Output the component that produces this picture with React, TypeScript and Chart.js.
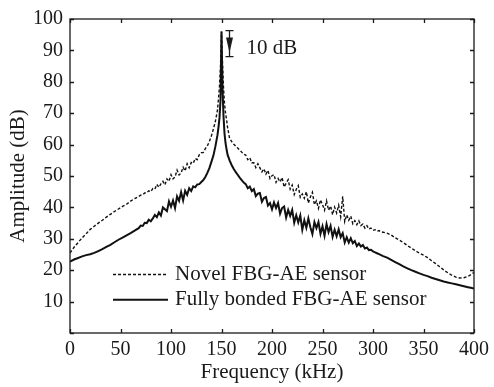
import React, { useEffect, useRef } from "react";
import { Chart, registerables } from "chart.js";

Chart.register(...registerables);

// ---- data ----
const freqKHz = [
  0, 4, 8, 12, 16, 20, 24, 28, 32, 36, 40, 44, 48, 52, 56, 60, 64, 68,
  70, 72, 74, 76, 78, 80, 82, 84, 86, 88,
  90, 92, 94, 96, 98, 100, 102, 104, 106, 108,
  110, 112, 114, 116, 118, 120, 122, 124, 126, 128,
  130, 132, 134, 136, 138, 140, 142, 144, 146,
  147, 148, 149, 150, 151, 152, 153, 154, 155, 156,
  158, 160, 162, 164, 166, 168, 170, 172, 174, 176,
  178, 180, 182, 184, 186, 188, 190, 192, 194, 196,
  198, 200, 202, 204, 206, 208, 210, 212, 214, 216,
  218, 220, 222, 224, 226, 228, 230, 232, 234, 236,
  238, 240, 242, 244, 246, 248, 250, 252, 254, 256,
  258, 260, 262, 264, 266, 268, 270, 272, 274, 276,
  278, 280, 282, 284, 286, 288, 290, 292, 294, 296,
  298, 300, 302, 304, 306, 308, 310,
  314, 318, 322, 326, 330, 334, 338, 342, 346, 350, 354, 358, 362, 366, 370, 374, 378, 382, 386, 390, 394, 398, 400,
];

const novelDb = [
  25.5, 27.3, 28.8, 30.3, 31.6, 33.0, 34.0, 35.0, 35.9, 36.9, 37.8, 38.7, 39.5, 40.3, 41.0, 42.0, 42.8, 43.5,
  43.9, 44.0, 44.6, 44.7, 45.3, 45.0, 46.0, 45.8, 47.3, 46.4,
  47.5, 48.3, 47.2, 49.1, 48.3, 50.4, 49.1, 49.7, 51.9, 50.3,
  51.0, 52.8, 51.6, 53.9, 52.6, 54.3, 54.0, 55.6, 55.2, 56.8,
  57.4, 57.5, 58.7, 59.6, 61.0, 62.8, 65.0, 67.5, 71.0,
  74.5, 78.5, 85.0, 96.0, 86.0, 78.0, 73.0, 70.0, 68.0, 65.5,
  62.0, 61.0, 60.2, 59.5, 58.9, 58.3, 57.6, 56.9, 56.7, 55.2,
  55.8, 54.2, 54.2, 52.7, 53.9, 52.6, 51.3, 52.3, 50.6, 51.8,
  49.2, 50.1, 50.4, 48.0, 49.2, 48.1, 49.5, 46.5, 47.7, 48.8,
  45.8, 47.1, 44.1, 45.7, 46.9, 43.2, 44.3, 42.9, 45.0, 41.4,
  43.3, 44.8, 40.9, 42.1, 39.7, 42.4, 40.9, 39.1, 42.1, 39.1,
  40.4, 37.7, 40.1, 38.2, 40.7, 37.0, 43.5, 35.5, 37.6, 35.9,
  37.2, 34.8, 35.8, 34.5, 35.7, 34.2, 34.7, 33.4, 34.2, 33.1,
  33.4, 32.7, 32.9, 32.4, 32.6, 32.2, 32.1,
  31.8, 31.2, 30.3, 29.6, 28.8, 27.9, 27.0, 26.2, 25.4, 24.8, 24.0, 23.0, 22.1, 21.1, 20.1, 19.2, 18.4, 17.8, 17.5, 17.6, 18.0, 18.8, 19.3,
];

const bondedDb = [
  22.7, 23.4, 23.9, 24.4, 24.8, 25.1, 25.5, 26.1, 26.7, 27.4, 28.1, 28.9, 29.7, 30.4, 31.1, 31.8, 32.6, 33.4,
  34.2, 34.1, 35.1, 35.0, 36.1, 35.6, 36.5, 37.6, 36.9, 38.4,
  37.4, 40.0, 39.4, 38.8, 41.9, 40.2, 42.2, 39.8, 43.5, 42.1,
  44.9, 42.2, 45.3, 44.0, 46.1, 45.2, 46.7, 46.4, 47.3, 47.4,
  48.1, 48.7, 49.7, 51.0, 52.5, 54.5, 56.5, 59.5, 63.0,
  65.5, 68.5, 74.0, 96.0, 78.0, 69.0, 63.5, 60.5, 58.5, 56.8,
  55.0, 53.5, 52.3, 51.3, 50.4, 49.5, 48.7, 47.9, 47.4, 46.1,
  46.6, 45.2, 45.8, 43.6, 44.4, 44.6, 41.8, 43.0, 43.3, 40.6,
  41.4, 39.4, 41.6, 39.8, 41.4, 38.0, 39.8, 40.3, 36.8, 39.2,
  37.3, 39.2, 35.1, 37.5, 35.2, 37.4, 32.9, 35.9, 33.5, 36.5,
  33.7, 31.5, 35.3, 33.4, 35.3, 31.6, 34.0, 31.0, 34.7, 32.1,
  34.1, 30.6, 32.9, 30.8, 33.0, 30.5, 31.8, 28.8, 30.5, 28.8,
  30.2, 28.6, 29.3, 27.7, 28.5, 27.5, 28.0, 26.9, 27.2, 26.4,
  26.5, 26.0, 25.7, 25.4, 25.1, 24.8, 24.5,
  24.0, 23.3, 22.6, 21.9, 21.2, 20.6, 20.0, 19.5, 19.0, 18.5, 18.1, 17.6, 17.2, 16.8, 16.4, 16.1, 15.8, 15.5, 15.2, 14.9, 14.6, 14.3, 14.2,
];

const xTicks = [0, 50, 100, 150, 200, 250, 300, 350, 400];
const yTicks = [0, 10, 20, 30, 40, 50, 60, 70, 80, 90, 100];
const seriesLabels = ["Novel FBG-AE sensor", "Fully bonded FBG-AE sensor"];
const xTitle = "Frequency (kHz)";
const yTitle = "Amplitude (dB)";
const noteText = "10 dB";
const noteFreq = 157;
const noteTopDb = 96.3;
const noteBottomDb = 88;

const FONT = "'Liberation Serif', 'Times New Roman', serif";
const INK = "#1a1a1a";
const TICK_FS = 20;
const TEXT_FS = 21;

const framePlugin = {
  id: "frame",
  afterDatasetsDraw(chart: any) {
    const { ctx, chartArea: a, scales } = chart;
    const xs = scales.x;
    const ys = scales.y;
    ctx.save();
    ctx.strokeStyle = INK;
    ctx.lineWidth = 1.3;
    ctx.setLineDash([]);
    ctx.strokeRect(a.left, a.top, a.right - a.left, a.bottom - a.top);
    const L = 4;
    ctx.beginPath();
    for (const t of xTicks) {
      const px = Math.round(xs.getPixelForValue(t)) + 0.5;
      ctx.moveTo(px, a.bottom);
      ctx.lineTo(px, a.bottom - L);
      ctx.moveTo(px, a.top);
      ctx.lineTo(px, a.top + L);
    }
    for (const t of yTicks) {
      const py = Math.round(ys.getPixelForValue(t)) + 0.5;
      ctx.moveTo(a.left, py);
      ctx.lineTo(a.left + L, py);
      ctx.moveTo(a.right, py);
      ctx.lineTo(a.right - L, py);
    }
    ctx.stroke();

    // 10 dB annotation
    const ax = Math.round(xs.getPixelForValue(noteFreq)) + 0.5;
    const top = ys.getPixelForValue(noteTopDb);
    const bot = ys.getPixelForValue(noteBottomDb);
    ctx.lineWidth = 1.3;
    ctx.beginPath();
    ctx.moveTo(ax - 4, top);
    ctx.lineTo(ax + 4, top);
    ctx.moveTo(ax, top);
    ctx.lineTo(ax, bot);
    ctx.moveTo(ax - 4, bot);
    ctx.lineTo(ax + 4, bot);
    ctx.stroke();
    ctx.fillStyle = INK;
    ctx.beginPath();
    ctx.moveTo(ax - 3.5, top + 7);
    ctx.lineTo(ax + 3.5, top + 7);
    ctx.lineTo(ax, bot - 4);
    ctx.closePath();
    ctx.fill();
    ctx.font = `${TEXT_FS}px ${FONT}`;
    ctx.textBaseline = "middle";
    ctx.textAlign = "left";
    ctx.fillText(noteText, ax + 17, (top + bot) / 2 + 5);

    // legend
    const rows = [a.bottom - 58.5, a.bottom - 33.3];
    chart.data.datasets.forEach((ds: any, i: number) => {
      const ry = rows[i];
      ctx.strokeStyle = ds.borderColor;
      ctx.lineWidth = ds.borderWidth;
      ctx.setLineDash(ds.borderDash || []);
      ctx.beginPath();
      ctx.moveTo(a.left + 43, ry);
      ctx.lineTo(a.left + 98, ry);
      ctx.stroke();
      ctx.setLineDash([]);
      ctx.fillStyle = INK;
      ctx.fillText(ds.label, a.left + 105, ry);
    });
    ctx.restore();
  },
};

export default function App() {
  const ref = useRef<HTMLCanvasElement | null>(null);

  useEffect(() => {
    if (!ref.current) return;
    const toPts = (vals: number[]) => freqKHz.map((f, i) => ({ x: f, y: vals[i] }));
    const chart = new Chart(ref.current, {
      type: "line",
      data: {
        datasets: [
          {
            label: seriesLabels[0],
            data: toPts(novelDb),
            borderColor: "#111",
            borderWidth: 1.4,
            borderDash: [3, 2],
            pointRadius: 0,
            tension: 0,
            fill: false,
          },
          {
            label: seriesLabels[1],
            data: toPts(bondedDb),
            borderColor: "#111",
            borderWidth: 2,
            pointRadius: 0,
            tension: 0,
            fill: false,
          },
        ],
      },
      options: {
        responsive: false,
        animation: false,
        events: [],
        layout: { padding: { top: 15, right: 16, left: 0, bottom: 0 } },
        plugins: { legend: { display: false }, tooltip: { enabled: false } },
        scales: {
          x: {
            type: "linear",
            min: 0,
            max: 400,
            afterFit: (s: any) => {
              s.height = 54;
            },
            grid: { display: false, drawTicks: false },
            border: { display: false },
            ticks: {
              stepSize: 50,
              autoSkip: false,
              maxRotation: 0,
              padding: 5,
              color: INK,
              font: { family: FONT, size: TICK_FS },
            },
            title: {
              display: true,
              text: xTitle,
              color: INK,
              font: { family: FONT, size: TEXT_FS },
              padding: { top: 0, bottom: 1.5 },
            },
          },
          y: {
            type: "linear",
            min: 0,
            max: 100,
            afterFit: (s: any) => {
              s.width = 70;
            },
            grid: { display: false, drawTicks: false },
            border: { display: false },
            ticks: {
              stepSize: 10,
              autoSkip: false,
              padding: 7,
              color: INK,
              font: { family: FONT, size: TICK_FS },
              callback: (v: any) => (v === 0 ? "" : String(v)),
            },
            title: {
              display: true,
              text: yTitle,
              color: INK,
              font: { family: FONT, size: TEXT_FS },
              padding: { top: 5.5, bottom: 0 },
            },
          },
        },
      },
      plugins: [framePlugin],
    });
    return () => chart.destroy();
  }, []);

  return (
    <div style={{ position: "absolute", left: 0, top: 0, width: 494, height: 387, background: "#fff" }}>
      <canvas ref={ref} width={494} height={387} style={{ display: "block", width: 494, height: 387 }} />
    </div>
  );
}
